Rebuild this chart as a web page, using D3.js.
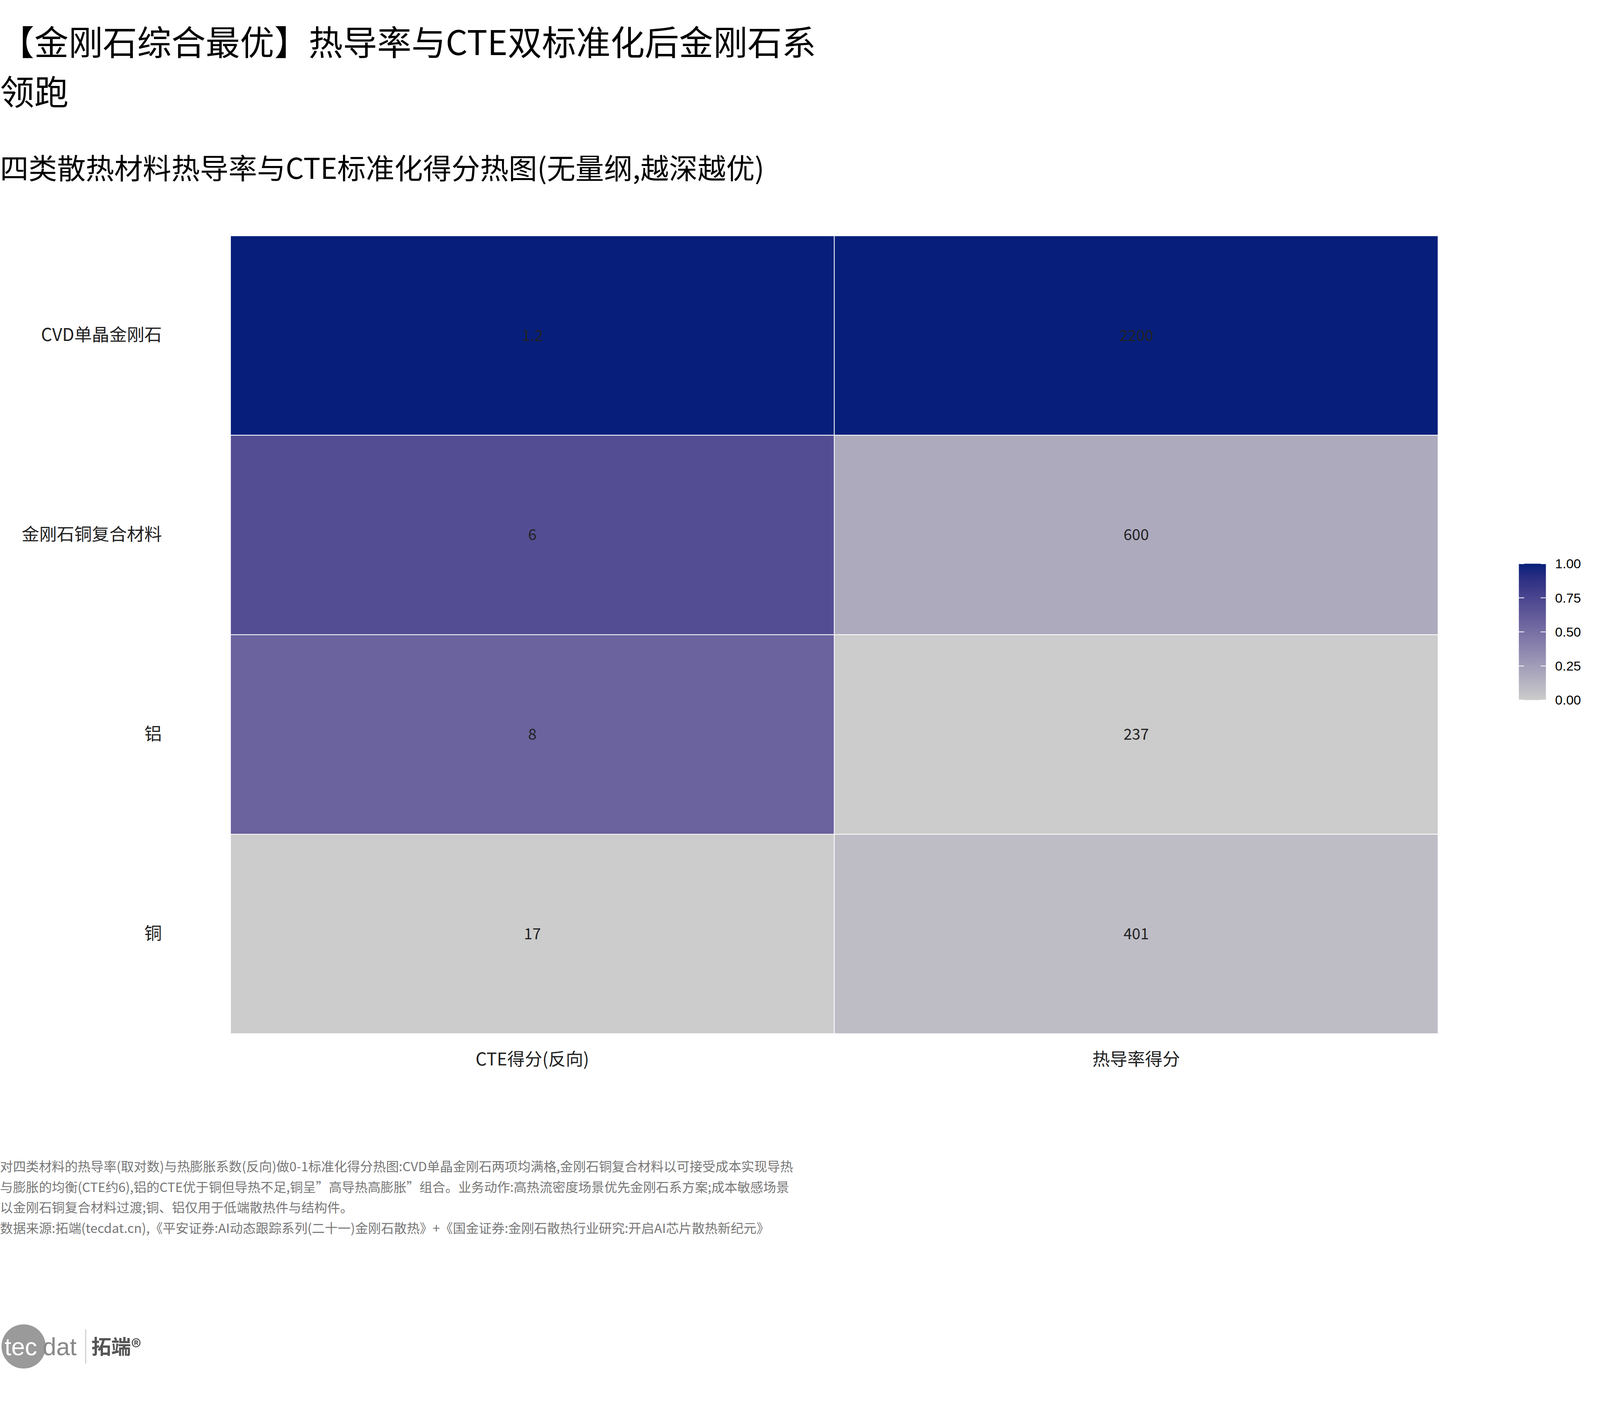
<!DOCTYPE html>
<html><head><meta charset="utf-8">
<script src="https://cdn.jsdelivr.net/npm/d3@7"></script>
<style>html,body{margin:0;background:#fff;overflow:hidden;width:100%;height:100%}svg{display:block}text{font-family:"Noto Sans CJK SC","DejaVu Sans",sans-serif}</style>
</head><body>
<script>
const materials = ["CVD单晶金刚石","金刚石铜复合材料","铝","铜"];
const metrics = ["CTE得分(反向)","热导率得分"];
const cteRaw = ["1.2","6","8","17"];
const kRaw = ["2200","600","237","401"];
const cteScore = [1.0, 0.70, 0.57, 0.0];
const kScore = [1.0, 0.18, 0.0, 0.08];
const legendTicks = [0, 0.25, 0.5, 0.75, 1];
const notes = [
 "对四类材料的热导率(取对数)与热膨胀系数(反向)做0-1标准化得分热图:CVD单晶金刚石两项均满格,金刚石铜复合材料以可接受成本实现导热",
 "与膨胀的均衡(CTE约6),铝的CTE优于铜但导热不足,铜呈\u201d高导热高膨胀\u201d组合。业务动作:高热流密度场景优先金刚石系方案;成本敏感场景",
 "以金刚石铜复合材料过渡;铜、铝仅用于低端散热件与结构件。",
 "数据来源:拓端(tecdat.cn),《平安证券:AI动态跟踪系列(二十一)金刚石散热》+《国金证券:金刚石散热行业研究:开启AI芯片散热新纪元》"
];
const W=4200,H=3600;
const svg=d3.select("body").append("svg").attr("width","100%").attr("height","100%").attr("viewBox",`0 0 ${W} ${H}`).attr("preserveAspectRatio","xMinYMin meet");
svg.append("text").attr("x",0).attr("y",145).attr("font-size",90).text("【金刚石综合最优】热导率与CTE双标准化后金刚石系");
svg.append("text").attr("x",0).attr("y",275).attr("font-size",90).text("领跑");
svg.append("text").attr("x",0).attr("y",470).attr("font-size",75).text("四类散热材料热导率与CTE标准化得分热图(无量纲,越深越优)");
const x=d3.scaleBand().domain(metrics).range([605,3775]);
const y=d3.scaleBand().domain(materials).range([619,2714]);
const color=d3.scaleLinear().domain([0,1]).range(["#cccccc","#071f7a"]).interpolate(d3.interpolateLab);
const cells=[];
materials.forEach((m,i)=>{cells.push({m,k:metrics[0],v:cteScore[i],t:cteRaw[i]});cells.push({m,k:metrics[1],v:kScore[i],t:kRaw[i]});});
svg.selectAll("rect.c").data(cells).join("rect").attr("x",d=>x(d.k)).attr("y",d=>y(d.m)).attr("width",x.bandwidth()).attr("height",y.bandwidth()).attr("fill",d=>color(d.v)).attr("stroke","#fff").attr("stroke-width",2);
svg.selectAll("text.v").data(cells).join("text").attr("x",d=>x(d.k)+x.bandwidth()/2).attr("y",d=>y(d.m)+y.bandwidth()/2).attr("dy","0.35em").attr("text-anchor","middle").attr("font-size",40).attr("fill","#222").text(d=>d.t);
const ya=svg.append("g").attr("transform","translate(425,0)").call(d3.axisLeft(y).tickSize(0).tickPadding(0));
ya.select(".domain").remove();ya.selectAll("text").attr("font-size",46).attr("fill","#222").style("font-family",'"Noto Sans CJK SC"');
const xa=svg.append("g").attr("transform","translate(0,2760)").call(d3.axisBottom(x).tickSize(0).tickPadding(0));
xa.select(".domain").remove();xa.selectAll("text").attr("font-size",46).attr("fill","#222").attr("dy","0.8em").style("font-family",'"Noto Sans CJK SC"');
// legend
const defs=svg.append("defs");const g=defs.append("linearGradient").attr("id","lg").attr("x1",0).attr("x2",0).attr("y1",1).attr("y2",0);
d3.range(0,1.01,0.1).forEach(t=>g.append("stop").attr("offset",t).attr("stop-color",color(t)));
const ly=d3.scaleLinear().domain([0,1]).range([1838,1480]);
svg.append("rect").attr("x",3987).attr("y",1480).attr("width",71).attr("height",358).attr("fill","url(#lg)");
legendTicks.forEach(t=>{
 svg.append("line").attr("x1",3987).attr("x2",4001).attr("y1",ly(t)).attr("y2",ly(t)).attr("stroke","#fff").attr("stroke-width",2);
 svg.append("line").attr("x1",4044).attr("x2",4058).attr("y1",ly(t)).attr("y2",ly(t)).attr("stroke","#fff").attr("stroke-width",2);
 svg.append("text").attr("x",4082).attr("y",ly(t)).attr("dy","0.35em").attr("font-size",35).attr("fill","#000").style("font-family","Liberation Sans").text(d3.format(".2f")(t));
});
notes.forEach((n,i)=>svg.append("text").attr("x",0).attr("y",3075+i*54).attr("font-size",34).attr("fill","#777").text(n));
// logo
svg.append("circle").attr("cx",62).attr("cy",3535).attr("r",58).attr("fill","#9a9a9a");
svg.append("text").attr("x",12).attr("y",3558).attr("font-size",64).attr("fill","#fff").style("font-family","Liberation Sans").text("tec");
svg.append("text").attr("x",112).attr("y",3558).attr("font-size",64).attr("fill","#888").style("font-family","Liberation Sans").text("dat");
svg.append("line").attr("x1",225).attr("x2",225).attr("y1",3490).attr("y2",3580).attr("stroke","#bbb").attr("stroke-width",2);
svg.append("text").attr("x",240).attr("y",3555).attr("font-size",52).attr("font-weight","bold").attr("fill","#555").text("拓端®");
</script></body></html>
